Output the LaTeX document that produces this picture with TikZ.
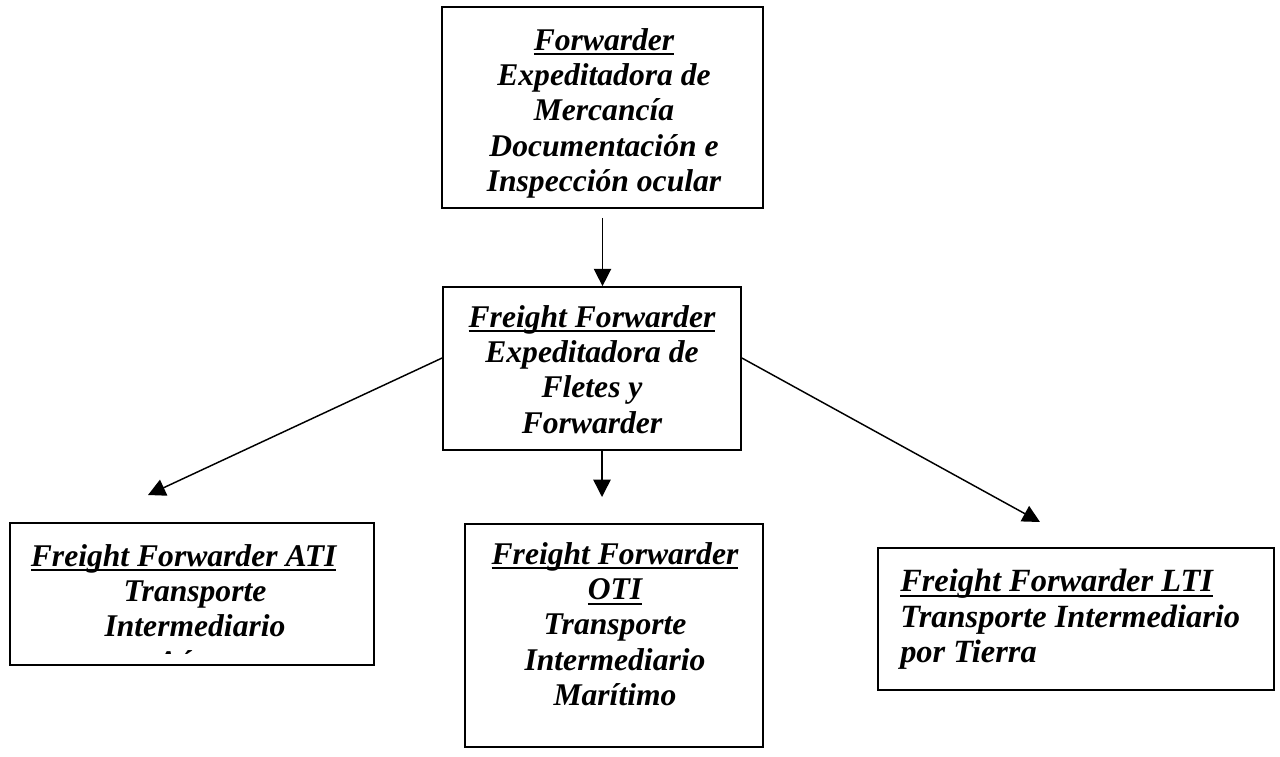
\documentclass[tikz,border=0pt]{standalone}
\usepackage{fontspec}
\setmainfont{Liberation Serif}
\usetikzlibrary{arrows.meta,calc}
% underline set at a fixed depth below the baseline, crossing descenders
\newcommand\ulword[1]{\setbox0=\hbox{#1}\rlap{\rule[-0.16em]{\wd0}{0.065em}}\box0}
\begin{document}
\begin{tikzpicture}[x=0.75pt,y=-0.75pt,
  box/.style={draw,line width=1.3pt,inner sep=0pt},
  label/.style={inner sep=0pt,font=\fontsize{23.7pt}{26.5pt}\selectfont\bfseries\itshape},
  arr/.style={line width=1.1pt,-{Triangle[length=13pt,width=13pt]}}]
\useasboundingbox[fill=white] (0,0) rectangle (1280,756);

% boxes
\node[box,minimum width=240.75pt,minimum height=150.75pt] (top) at (602.5,107.5) {};
\node[box,minimum width=223.5pt,minimum height=122.25pt] (mid) at (592,368.5) {};
\node[box,minimum width=273pt,minimum height=106.5pt] (ati) at (192,594) {};
\node[box,minimum width=223.5pt,minimum height=167.25pt] (oti) at (614,635.5) {};
\node[box,minimum width=297pt,minimum height=106.5pt] (lti) at (1076,619) {};

% texts
\node[label,align=center,anchor=north] (topText) at (604,28)
  {\ulword{Forwarder}\\Expeditadora de\\Mercancía\\Documentación e\\Inspección ocular};
\node[label,align=center,anchor=north] (midText) at (592,305)
  {\ulword{Freight Forwarder}\\Expeditadora de\\Fletes y\\Forwarder};
\node[label,align=center,anchor=north] (otiText) at (615,542)
  {\ulword{Freight Forwarder}\\\ulword{OTI}\\Transporte\\Intermediario\\Marítimo};
\begin{scope}
  \clip (12,525) rectangle (372,653.5);
  \node[label,align=center,anchor=north] (atiText) at (195,544)
    {\ulword{Freight Forwarder ATI}\hspace*{17pt}\\Transporte\\Intermediario\\Aéreo};
\end{scope}
\node[label,align=left,anchor=north west,font=\fontsize{24.3pt}{26.5pt}\selectfont\bfseries\itshape]
  (ltiText) at (900,569)
  {\ulword{Freight Forwarder LTI}\\Transporte Intermediario\\por Tierra};

% connectors
\coordinate (otiTip) at (602,497);
\coordinate (atiTip) at (148,495);
\coordinate (ltiTip) at (1040,522);
\draw[arr] ($(top.south)+(0,9)$) -- (mid.north -| top.south);
\draw[arr] (mid.south -| otiTip) -- (otiTip);
\draw[arr] ($(mid.west)+(0,-10.5)$) -- (atiTip);
\draw[arr] ($(mid.east)+(0,-10.5)$) -- (ltiTip);
\end{tikzpicture}
\end{document}
